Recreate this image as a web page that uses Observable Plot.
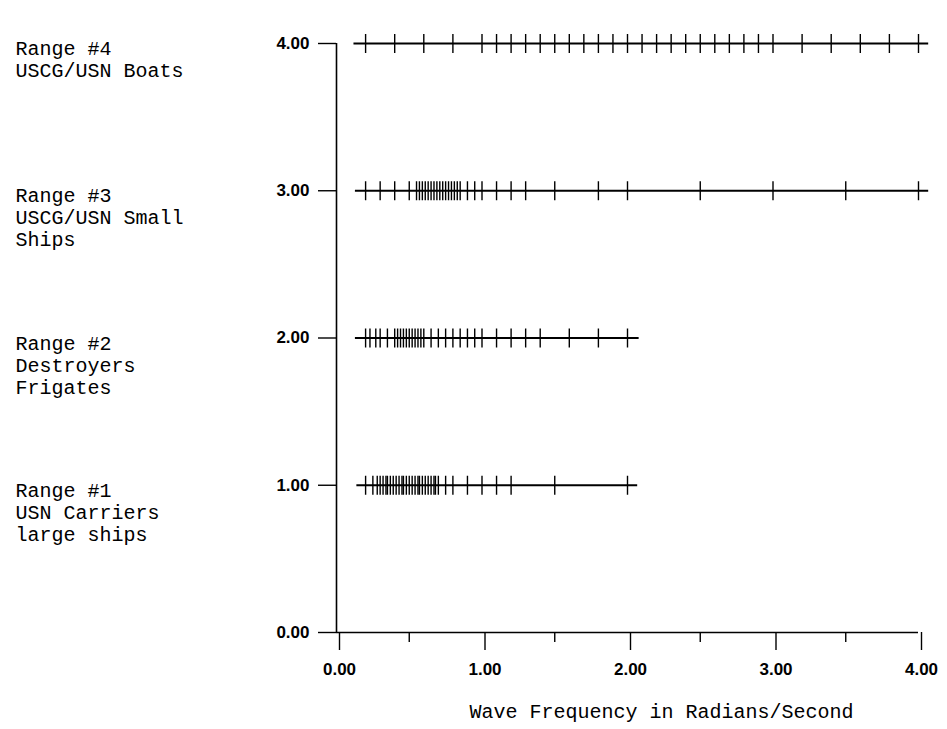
<!DOCTYPE html>
<html>
<head>
<meta charset="utf-8">
<script src="https://cdn.jsdelivr.net/npm/d3@7"></script>
<script src="https://cdn.jsdelivr.net/npm/@observablehq/plot@0.6"></script>
<style>
  html, body { margin: 0; padding: 0; background: #fff; }
  #chart svg { display: block; }
</style>
</head>
<body>
<div id="chart"></div>
<script>
// ---- data ----
const rangeIds = [1, 2, 3, 4];
const rangeNames = [
  ["Range #1", "USN Carriers", "large ships"],
  ["Range #2", "Destroyers", "Frigates"],
  ["Range #3", "USCG/USN Small", "Ships"],
  ["Range #4", "USCG/USN Boats"]
];
const lineStart = [0.14, 0.13, 0.13, 0.12];
const lineEnd = [2.07, 2.08, 4.07, 4.07];

const freq1 = [0.2, 0.25, 0.28, 0.30, 0.32, 0.34, 0.35, 0.37, 0.39, 0.41, 0.43, 0.45, 0.46, 0.48,
  0.50, 0.52, 0.54, 0.56, 0.57, 0.59, 0.61, 0.63, 0.65, 0.67, 0.68, 0.70,
  0.75, 0.8, 0.9, 1.0, 1.1, 1.2, 1.5, 2.0];
const freq2 = [0.2, 0.23, 0.27, 0.3, 0.35, 0.40, 0.42, 0.44, 0.46, 0.48, 0.50, 0.52, 0.54, 0.56,
  0.58, 0.60, 0.65, 0.7, 0.75, 0.8, 0.85, 0.9, 0.95, 1.0, 1.1, 1.2, 1.3, 1.4, 1.6, 1.8, 2.0];
const freq3 = [0.2, 0.3, 0.4, 0.5, 0.55, 0.57, 0.59, 0.61, 0.63, 0.65, 0.67, 0.69, 0.71, 0.73,
  0.75, 0.77, 0.79, 0.81, 0.83, 0.85, 0.9, 0.95, 1.0, 1.1, 1.2, 1.3, 1.5, 1.8, 2.0, 2.5,
  3.0, 3.5, 4.0];
const freq4 = [0.2, 0.4, 0.6, 0.8, 1.0, 1.1, 1.2, 1.3, 1.4, 1.5, 1.6, 1.7, 1.8, 1.9, 2.0, 2.1,
  2.2, 2.3, 2.4, 2.5, 2.6, 2.7, 2.8, 2.9, 3.0, 3.2, 3.4, 3.6, 3.8, 4.0];

const xDomain = [0, 4];
const yDomain = [0, 4];
const xMajorTicks = [0, 1, 2, 3, 4];
const xMinorTicks = [0.5, 1.5, 2.5, 3.5];
const yTicks = [0, 1, 2, 3, 4];
const xTitle = "Wave Frequency in Radians/Second";

// ---- tables built from the arrays ----
const freqSeries = [freq1, freq2, freq3, freq4];
const points = rangeIds.flatMap((r, i) => freqSeries[i].map(f => ({range: r, freq: f})));
const segments = rangeIds.map((r, i) => ({range: r, start: lineStart[i], end: lineEnd[i]}));
const labels = rangeIds.map((r, i) => ({range: r, text: rangeNames[i].join("\n")}));

// vertical bar symbol for the "+" crossings
const vbar = {
  draw(context, size) {
    const h = Math.sqrt(size / Math.PI);
    context.moveTo(0, -h);
    context.lineTo(0, h);
  }
};

const mono = "'Liberation Mono', 'Courier New', Courier, monospace";
const sans = "'Liberation Sans', Arial, Helvetica, sans-serif";

const chart = Plot.plot({
  width: 947,
  height: 729,
  marginLeft: 336,
  marginRight: 29,
  marginTop: 43,
  marginBottom: 97,
  style: {background: "#fff", color: "#000", overflow: "visible"},
  x: {domain: xDomain, label: null},
  y: {domain: yDomain, label: null},
  marks: [
    // axis lines
    Plot.ruleY([0], {x1: xDomain[0], x2: xDomain[1], stroke: "#000", strokeWidth: 1.6}),
    Plot.ruleX([0], {y1: yDomain[0], y2: yDomain[1], stroke: "#000", strokeWidth: 1.6}),
    // axes
    Plot.axisY({ticks: yTicks, tickSize: 18, tickPadding: 9, tickFormat: d3.format(".2f"),
      label: null, fontSize: 17, fontWeight: "bold", fontFamily: sans, strokeWidth: 1.4}),
    Plot.axisX({ticks: xMajorTicks, tickSize: 18, tickPadding: 12, tickFormat: d3.format(".2f"),
      label: null, fontSize: 17, fontWeight: "bold", fontFamily: sans, strokeWidth: 1.4, dx: 3}),
    Plot.axisX({ticks: xMinorTicks, tickSize: 10, tickFormat: () => "", label: null, strokeWidth: 1.4}),
    // range lines
    Plot.ruleY(segments, {y: "range", x1: "start", x2: "end", stroke: "#000", strokeWidth: 2.2}),
    // frequency crossings
    Plot.dot(points, {x: "freq", y: "range", symbol: vbar, r: 9.5, stroke: "#000", fill: "none", strokeWidth: 1.4}),
    // range descriptions on the left
    Plot.text(labels, {y: "range", text: "text", frameAnchor: "left", textAnchor: "start",
      lineAnchor: "top", dx: -321, dy: -4, lineHeight: 1.1, fontSize: 20, fontFamily: mono, fill: "#000"}),
    // x title
    Plot.text([xTitle], {text: d => d, frameAnchor: "bottom", lineAnchor: "middle", dx: 34, dy: 79,
      fontSize: 20, fontFamily: mono, fill: "#000"})
  ]
});

document.getElementById("chart").appendChild(chart);
</script>
</body>
</html>
